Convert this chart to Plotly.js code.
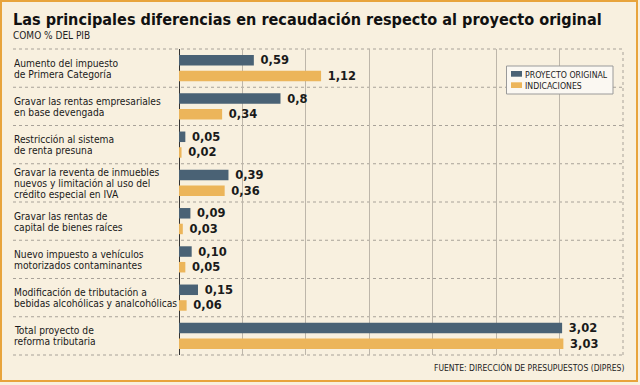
<!DOCTYPE html>
<html>
<head>
<meta charset="utf-8">
<script src="https://cdn.plot.ly/plotly-3.0.1.min.js"></script>
<style>html,body{margin:0;padding:0;background:#f8f0df;}#chart{width:640px;height:385px;}</style>
</head>
<body>
<div id="chart"></div>
<script>
const categories = [
  "Aumento del impuesto<br>de Primera Categoría",
  "Gravar las rentas empresariales<br>en base devengada",
  "Restricción al sistema<br>de renta presuna",
  "Gravar la reventa de inmuebles<br>nuevos y limitación al uso del<br>crédito especial en IVA",
  "Gravar las rentas de<br>capital de bienes raíces",
  "Nuevo impuesto a vehículos<br>motorizados contaminantes",
  "Modificación de tributación a<br>bebidas alcohólicas y analcohólicas",
  "Total proyecto de<br>reforma tributaria"
];
const seriesNames = ["PROYECTO ORIGINAL", "INDICACIONES"];
const proyectoOriginal = [0.59, 0.8, 0.05, 0.39, 0.09, 0.10, 0.15, 3.02];
const indicaciones = [1.12, 0.34, 0.02, 0.36, 0.03, 0.05, 0.06, 3.03];
const proyectoLabels = ["0,59", "0,8", "0,05", "0,39", "0,09", "0,10", "0,15", "3,02"];
const indicacionesLabels = ["1,12", "0,34", "0,02", "0,36", "0,03", "0,05", "0,06", "3,03"];

const colors = ["#4a6275", "#ecb55a"];
const W = 640, H = 385, L = 179, R = 17, T = 49, B = 30;
const pw = W - L - R, ph = H - T - B;
const px = X => (X - L) / pw;
const py = Y => (H - B - Y) / ph;
const nb = '\u00a0';
const cond = "DejaVu Sans Condensed, DejaVu Sans, sans-serif";

const valFont = {family: "DejaVu Sans", size: 11.5, color: "#1a1a1a"};
function barTrace(vals, labels, name, color) {
  return {
    type: 'bar', orientation: 'h', name: name,
    x: vals, y: categories,
    text: labels.map(t => nb + '<b>' + t + '</b>'),
    textposition: 'outside', constraintext: 'none', cliponaxis: false,
    textfont: valFont,
    marker: {color: color, line: {width: 0}},
    hoverinfo: 'none', showlegend: false
  };
}
const data = [
  barTrace(proyectoOriginal, proyectoLabels, seriesNames[0], colors[0]),
  barTrace(indicaciones, indicacionesLabels, seriesNames[1], colors[1])
];

const labelFont = {family: cond, size: 10.2, color: "#1a1a1a"};
const lineStep = 11;
const annotations = [];
categories.forEach(c => {
  const lines = c.split('<br>');
  lines.forEach((ln, j) => annotations.push({
    xref: 'paper', yref: 'y', x: px(13), y: c, xanchor: 'left', yanchor: 'middle',
    yshift: -((j - (lines.length - 1) / 2) * lineStep), height: 12, valign: 'middle', borderpad: 0,
    align: 'left', text: ln, showarrow: false, font: labelFont
  }));
});
annotations.push({xref: 'paper', yref: 'paper', x: px(11), y: py(19.5), xanchor: 'left', yanchor: 'middle',
  text: '<b>Las principales diferencias en recaudación respecto al proyecto original</b>', showarrow: false,
  font: {family: cond, size: 16.1, color: "#111"}});
annotations.push({xref: 'paper', yref: 'paper', x: px(11), y: py(36), xanchor: 'left', yanchor: 'middle',
  text: 'COMO % DEL PIB', showarrow: false,
  font: {family: cond, size: 10, color: "#222"}});
annotations.push({xref: 'paper', yref: 'paper', x: px(626), y: py(367), xanchor: 'right', yanchor: 'middle',
  text: 'FUENTE: DIRECCIÓN DE PRESUPUESTOS (DIPRES)', showarrow: false,
  font: {family: cond, size: 8.5, color: "#222"}});
// legend text
seriesNames.forEach((n, i) => annotations.push({xref: 'paper', yref: 'paper', x: px(524), y: py(74 + i * 11.3),
  xanchor: 'left', yanchor: 'middle', text: n, showarrow: false, height: 11, borderpad: 0,
  font: {family: cond, size: 8.7, color: "#222"}}));

const shapes = [];
// outer border
shapes.push({type: 'rect', xref: 'paper', yref: 'paper', x0: px(1), x1: px(637), y0: py(1), y1: py(381),
  line: {color: '#e8a43c', width: 2}, layer: 'below'});
// dashed separators
for (let i = 0; i <= categories.length; i++) {
  const Y = T + i * ph / categories.length;
  shapes.push({type: 'line', xref: 'paper', yref: 'paper', x0: px(13), x1: 1, y0: py(Y), y1: py(Y),
    line: {color: '#a8a299', width: 1, dash: 'dot'}, layer: 'below'});
}
// right dotted edge
shapes.push({type: 'line', xref: 'paper', yref: 'paper', x0: 1, x1: 1, y0: 0, y1: 1,
  line: {color: '#a8a299', width: 1, dash: 'dot'}, layer: 'below'});
// legend box and swatches
shapes.push({type: 'rect', xref: 'paper', yref: 'paper', x0: px(506.5), x1: px(613), y0: py(66), y1: py(94),
  line: {color: '#9a9a9a', width: 1}, fillcolor: '#fbf8f2', layer: 'above'});
colors.forEach((c, i) => shapes.push({type: 'rect', xref: 'paper', yref: 'paper',
  x0: px(511), x1: px(522), y0: py(71 + i * 11.3), y1: py(76.7 + i * 11.3),
  line: {width: 0}, fillcolor: c, layer: 'above'}));

const layout = {
  width: W, height: H,
  margin: {l: L, r: R, t: T, b: B, pad: 0},
  paper_bgcolor: '#f8f0df', plot_bgcolor: 'rgba(0,0,0,0)',
  barmode: 'group', bargap: 0.18, bargroupgap: 0.33,
  showlegend: false,
  xaxis: {range: [0, 3.5], dtick: 0.5, tick0: 0, showticklabels: false, ticks: '',
    showgrid: true, gridcolor: '#bdb6aa', gridwidth: 1, zeroline: true, zerolinecolor: '#333', zerolinewidth: 1,
    showline: false, fixedrange: true},
  yaxis: {autorange: 'reversed', showticklabels: false, ticks: '', showgrid: false, zeroline: false,
    showline: false, fixedrange: true},
  annotations: annotations, shapes: shapes,
  font: {family: "DejaVu Sans, sans-serif"}
};
Plotly.newPlot('chart', data, layout, {staticPlot: true, displayModeBar: false});
</script>
</body>
</html>
